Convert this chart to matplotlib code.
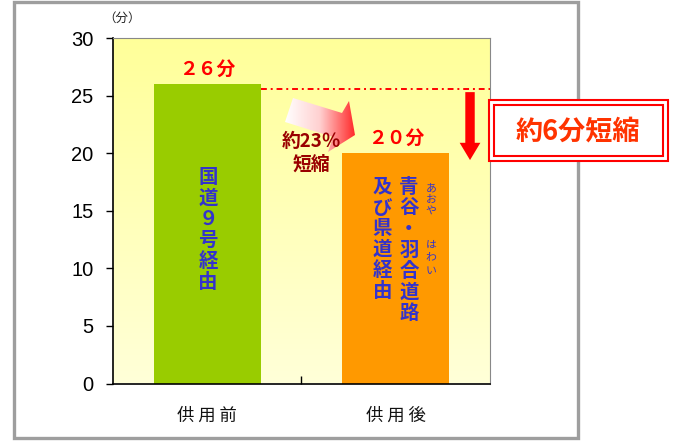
import numpy as np
import matplotlib.pyplot as plt
from matplotlib.patches import Polygon, Rectangle, FancyArrow
from matplotlib.colors import LinearSegmentedColormap
from matplotlib import font_manager

plt.rcParams['font.family'] = ['Noto Sans CJK JP', 'DejaVu Sans']

# data
categories = ['供 用 前', '供 用 後']
minutes = [26, 20]
value_labels = ['２６分', '２０分']
bar_colors = ['#99CC00', '#FF9900']
yticks = [0, 5, 10, 15, 20, 25, 30]
route_before = '国道９号経由'
route_after_1 = '青谷・羽合道路'
route_after_2 = '及び県道経由'
ruby_1 = 'あおや'
ruby_2 = 'はわい'
ratio_text = '約23％\n短縮'
saving_text = '約6分短縮'

names = {f.name for f in font_manager.fontManager.ttflist}
num_font = 'Liberation Sans Narrow' if 'Liberation Sans Narrow' in names else 'Liberation Sans'

W, H = 675, 446
fig = plt.figure(figsize=(W / 100, H / 100), dpi=100)
ax = fig.add_axes([113 / W, 1 - 383.5 / H, 377 / W, 345.5 / H])

# yellow gradient background
bg = LinearSegmentedColormap.from_list('bg', ['#FFFFD8', '#FFFF99'])
ax.imshow(np.linspace(0, 1, 256).reshape(-1, 1), cmap=bg, aspect='auto',
          origin='lower', extent=(-0.5, 1.5, 0, 30), zorder=0)

x = np.arange(len(categories))
ax.bar(x, minutes, width=0.57, color=bar_colors, zorder=2)
for i, (v, lab) in enumerate(zip(minutes, value_labels)):
    ax.text(i, v + 1.3, lab, ha='center', va='center', color='#FF0000',
            fontsize=13.5, fontweight='bold', zorder=4)

# reference line at the "before" level and the drop arrow
ax.plot([0.285, 1.5], [minutes[0] - 0.4] * 2, color='#FF0000', lw=1.4,
        dashes=(3, 2, 1, 2), zorder=3)
ax.add_patch(FancyArrow(1.394, minutes[0] - 0.7, 0, -(minutes[0] - minutes[1] - 0.1),
                        width=0.05, head_width=0.11, head_length=1.5,
                        length_includes_head=True, color='#FF0000', lw=0, zorder=4))

ax.set_xlim(-0.5, 1.5)
ax.set_ylim(0, 30)
ax.set_yticks(yticks)
ax.set_yticklabels([str(t) for t in yticks], fontfamily=num_font, fontsize=14.5)
ax.set_xticks(x)
ax.set_xticklabels(categories, fontsize=12.5, color='#111111')
ax.set_xticks([0.5], minor=True)
ax.tick_params(axis='y', direction='out', length=5, width=1, pad=9)
ax.tick_params(axis='x', which='major', length=0, pad=17)
ax.tick_params(axis='x', which='minor', direction='in', length=6, width=1)
for s in ['left', 'bottom']:
    ax.spines[s].set_color('black')
    ax.spines[s].set_linewidth(1.2)
for s in ['top', 'right']:
    ax.spines[s].set_color('#888888')
    ax.spines[s].set_linewidth(0.8)

# overlay in pixel coordinates for decorations
ov = fig.add_axes([0, 0, 1, 1], zorder=5)
ov.set_xlim(0, W)
ov.set_ylim(H, 0)
ov.axis('off')
ov.patch.set_alpha(0)

ov.add_patch(Rectangle((14, 1.5), 564, 436, fill=False, edgecolor='#9E9E9E', lw=2.4, zorder=1))
ov.text(122, 18, '（分）', ha='center', va='center', fontsize=9, color='#222222')


def vtext(xc, ytop, s, step, **kw):
    for k, ch in enumerate(s):
        ov.text(xc, ytop + step * (k + 0.5), ch, ha='center', va='center', **kw)


blue = '#3333CC'
vtext(208, 167, route_before, 21, fontsize=14, fontweight='bold', color=blue)
vtext(409, 177, route_after_1, 21, fontsize=14, fontweight='bold', color=blue)
vtext(382.5, 177, route_after_2, 20.8, fontsize=14, fontweight='bold', color=blue)
vtext(431, 183, ruby_1, 11.5, fontsize=7.8, color=blue)
vtext(431, 239, ruby_2, 12.7, fontsize=7.8, color=blue)

# gradient block arrow
pts = [(293, 98), (342, 113), (349, 101), (355, 135), (328, 152), (333, 137), (285, 122)]
arrow = Polygon(pts, closed=True, facecolor='none', edgecolor='none')
ov.add_patch(arrow)
grad = LinearSegmentedColormap.from_list('gr', ['#FFFFFF', '#FFD0D0', '#FF2A2A'])
im = ov.imshow(np.linspace(0, 1, 256).reshape(1, -1), cmap=grad, aspect='auto',
               extent=(285, 355, 152, 98), zorder=2)
im.set_clip_path(arrow)
ov.set_xlim(0, W)
ov.set_ylim(H, 0)

ov.text(311, 153, ratio_text, ha='center', va='center', fontsize=13.5,
        fontweight='bold', color='#990000', linespacing=1.25, zorder=3)

# boxed callout
ov.add_patch(Rectangle((489, 100), 178.5, 61, facecolor='white', edgecolor='#FF0000', lw=1.5, zorder=3))
ov.add_patch(Rectangle((494, 105), 168.5, 51, fill=False, edgecolor='#FF0000', lw=1.5, zorder=3))
ov.text(578, 132, saving_text, ha='center', va='center', fontsize=19.5,
        fontweight='bold', color='#FF3300', zorder=4)

fig.savefig('out.png', dpi=100)
